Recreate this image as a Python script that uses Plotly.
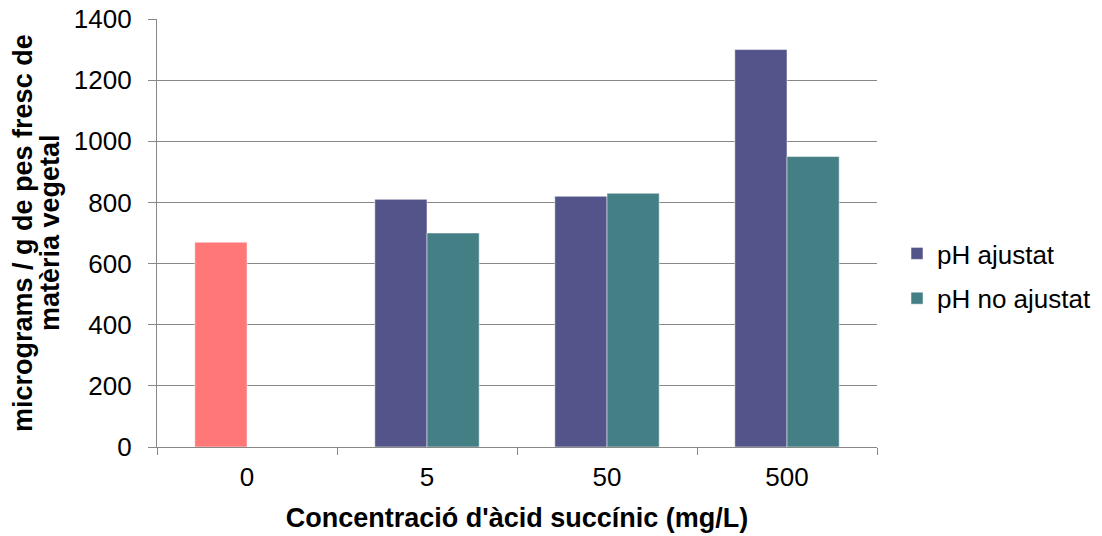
import plotly.graph_objects as go

# Succinic acid concentrations (mg/L) on the category axis
categories = ["0", "5", "50", "500"]

# micrograms per g of fresh plant matter
control = [670, None, None, None]
ph_ajustat = [None, 810, 820, 1300]
ph_no_ajustat = [None, 700, 830, 950]

y_ticks = [0, 200, 400, 600, 800, 1000, 1200, 1400]

y_title_lines = ["micrograms / g de pes fresc de", "matèria vegetal"]

FONT = "Liberation Sans, Arial, sans-serif"
GRID = "#888888"
EDGE = dict(color="rgba(255,255,255,0.5)", width=1)
W, H = 1102, 536
L, R, T, B = 157, 225, 19, 89

fig = go.Figure()

# Control bar shares the slot of the "pH ajustat" series
fig.add_trace(go.Bar(
    x=categories, y=control, name="control", showlegend=False,
    offsetgroup="a",
    marker=dict(color="#FF7777", line=EDGE),
))
fig.add_trace(go.Bar(
    x=categories, y=ph_ajustat, name="pH ajustat",
    offsetgroup="a", legendgroup="a",
    marker=dict(color="#535489", line=EDGE),
))
fig.add_trace(go.Bar(
    x=categories, y=ph_no_ajustat, name="pH no ajustat",
    offsetgroup="b", legendgroup="b",
    marker=dict(color="#447F85", line=EDGE),
))

# Two-line y-axis title with tight line spacing
plot_w = W - L - R
for i, line in enumerate(y_title_lines):
    fig.add_annotation(
        text=f"<b>{line}</b>", textangle=-90,
        xref="paper", yref="paper",
        x=(23 + 27 * i - L) / plot_w, y=0.5,
        xanchor="center", yanchor="middle",
        showarrow=False, font=dict(size=27),
    )

fig.update_layout(
    width=W, height=H,
    margin=dict(l=L, r=R, t=T, b=B, autoexpand=False),
    paper_bgcolor="white", plot_bgcolor="white",
    barmode="group", bargap=0.42, bargroupgap=0,
    font=dict(family=FONT, size=26, color="black"),
    legend=dict(
        xref="container", yref="container",
        x=897 / W, y=(H - 276) / H, xanchor="left", yanchor="middle",
        font=dict(size=26),
        tracegroupgap=8,
    ),
    xaxis=dict(
        type="category", automargin=False,
        tickson="boundaries",
        ticks="outside", ticklen=7, tickcolor=GRID, tickwidth=1.3,
        showline=True, linecolor=GRID, linewidth=1.3,
        showgrid=False,
        tickfont=dict(size=26), ticklabelstandoff=7,
        title=dict(text="<b>Concentració d'àcid succínic (mg/L)</b>",
                   font=dict(size=27), standoff=16),
    ),
    yaxis=dict(
        range=[0, 1400], automargin=False,
        tickvals=y_ticks,
        ticks="outside", ticklen=8, tickcolor=GRID, tickwidth=1.3,
        showline=True, linecolor=GRID, linewidth=1.3,
        showgrid=True, gridcolor=GRID, gridwidth=1.3,
        zeroline=False,
        tickfont=dict(size=26), ticklabelstandoff=11,
    ),
)

fig.write_html("out.html")
